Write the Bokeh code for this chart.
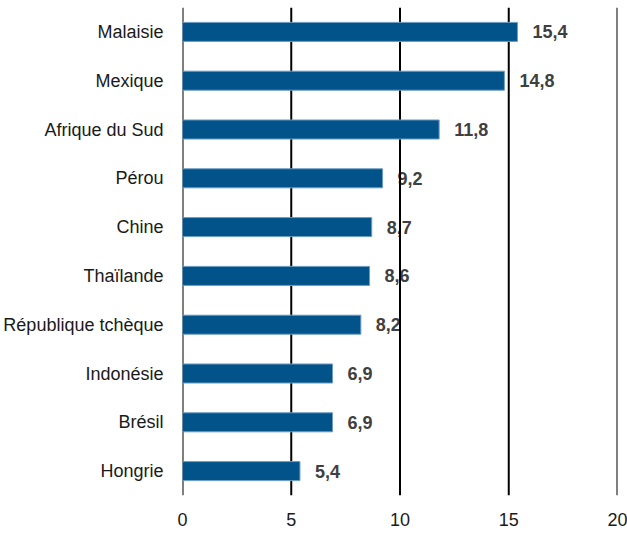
from bokeh.plotting import figure
from bokeh.models import ColumnDataSource, FixedTicker, Span
from bokeh.core.properties import value
from bokeh.embed import file_html
from bokeh.resources import INLINE

countries = ["Malaisie", "Mexique", "Afrique du Sud", "Pérou", "Chine", "Thaïlande",
             "République tchèque", "Indonésie", "Brésil", "Hongrie"]
values = [15.4, 14.8, 11.8, 9.2, 8.7, 8.6, 8.2, 6.9, 6.9, 5.4]
labels = ["15,4", "14,8", "11,8", "9,2", "8,7", "8,6", "8,2", "6,9", "6,9", "5,4"]
x_ticks = [0, 5, 10, 15, 20]

FONT = "Liberation Sans"

src = ColumnDataSource(dict(country=countries, val=values, lab=labels))

p = figure(width=627, height=533, y_range=list(reversed(countries)), x_range=(0, 20),
           output_backend="svg", toolbar_location=None,
           min_border_left=182, min_border_right=10, min_border_top=7, min_border_bottom=38)
p.outline_line_color = None
p.background_fill_color = "white"

# value labels (drawn beneath the vertical lines, as in the reference)
t = p.text(x="val", y="country", text="lab", source=src, x_offset=15,
           text_align="left", text_baseline="middle", text_font=value(FONT),
           text_font_size="18px", text_font_style="bold", text_color="#404040")
t.level = "image"

# vertical lines at every tick (including the frame edges)
for tk in x_ticks:
    p.add_layout(Span(location=tk, dimension="height", line_color="black",
                      line_width=2, level="underlay"))

p.hbar(y="country", right="val", left=0, height=0.39, source=src,
       fill_color="#01538A", line_color="#6f9cc2", line_width=1)

p.xaxis.ticker = FixedTicker(ticks=x_ticks)
p.xgrid.grid_line_color = None
p.ygrid.grid_line_color = None

for ax in (p.xaxis, p.yaxis):
    ax.axis_line_color = None
    ax.major_tick_line_color = None
    ax.minor_tick_line_color = None
    ax.major_tick_out = 0
    ax.major_tick_in = 0
    ax.minor_tick_out = 0
    ax.minor_tick_in = 0
    ax.major_label_text_font = FONT
    ax.major_label_text_font_size = "18px"
    ax.major_label_text_color = "#1a1a1a"
p.xaxis.major_label_standoff = 17
p.yaxis.major_label_standoff = 19

open("out.html", "w").write(file_html(p, INLINE))
